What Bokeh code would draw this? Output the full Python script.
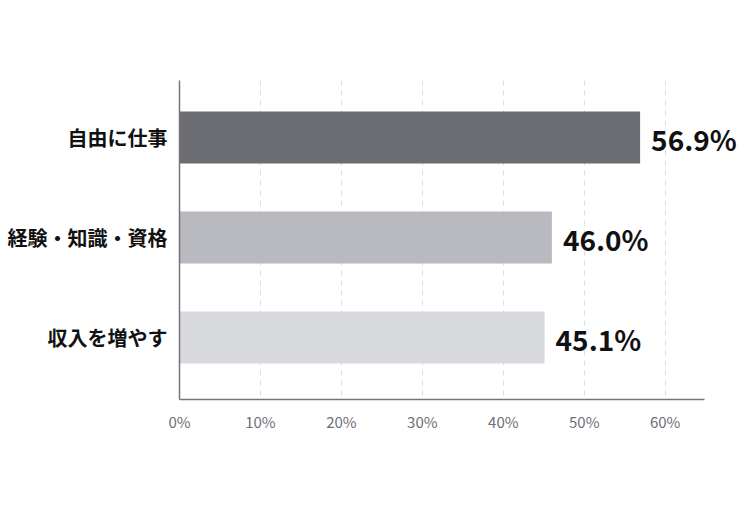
from bokeh.plotting import figure
from bokeh.models import Range1d, FixedTicker, ColumnDataSource, LabelSet
from bokeh.core.properties import value
from bokeh.embed import file_html
from bokeh.resources import INLINE

categories = ["自由に仕事", "経験・知識・資格", "収入を増やす"]
values = [56.9, 46.0, 45.1]
colors = ["#6b6d73", "#b8babf", "#d7d9dd"]
x_ticks = [0, 10, 20, 30, 40, 50, 60]
x_axis_max = 64.9

idx = list(range(len(categories)))
labels = [f"{v:.1f}%" for v in values]

src = ColumnDataSource(dict(y=idx, v=values, c=colors, lab=labels))

p = figure(width=740, height=491, output_backend="svg", toolbar_location=None,
           x_range=Range1d(0, 69.3), y_range=Range1d(2.62, -0.57),
           min_border_left=179, min_border_right=0, min_border_top=80, min_border_bottom=92)
p.outline_line_color = None
p.background_fill_color = "white"

p.hbar(y="y", left=0, right="v", height=0.52, fill_color="c", line_color=None, source=src)

ls = LabelSet(x="v", y="y", text="lab", source=src, x_offset=11, y_offset=-1,
              text_align="left", text_baseline="middle", text_font=value("Noto Sans CJK JP"),
              text_font_style="bold", text_font_size="28px", text_color="#111111")
p.add_layout(ls)

p.xaxis.ticker = FixedTicker(ticks=x_ticks)
p.xaxis.bounds = (0, x_axis_max)
p.xaxis.major_label_overrides = {t: f"{t}%" for t in x_ticks}
p.xaxis.major_tick_line_color = None
p.xaxis.minor_tick_line_color = None
p.xaxis.axis_line_color = "#74767b"
p.xaxis.axis_line_width = 1.5
p.xaxis.major_label_text_font = "Noto Sans CJK JP"
p.xaxis.major_label_text_font_size = "15px"
p.xaxis.major_label_text_color = "#6c6f76"
p.xaxis.major_label_standoff = 5

p.yaxis.ticker = FixedTicker(ticks=idx)
p.yaxis.major_label_overrides = {i: c for i, c in zip(idx, categories)}
p.yaxis.major_tick_line_color = None
p.yaxis.minor_tick_line_color = None
p.yaxis.axis_line_color = "#74767b"
p.yaxis.axis_line_width = 1.5
p.yaxis.major_label_text_font = "Noto Sans CJK JP"
p.yaxis.major_label_text_font_style = "bold"
p.yaxis.major_label_text_font_size = "20px"
p.yaxis.major_label_text_color = "#111111"
p.yaxis.major_label_standoff = 6

p.xgrid.grid_line_color = "#d8dce4"
p.xgrid.grid_line_dash = "5 5"
p.xgrid.grid_line_width = 1
p.ygrid.grid_line_color = None

open("out.html", "w").write(file_html(p, INLINE))
